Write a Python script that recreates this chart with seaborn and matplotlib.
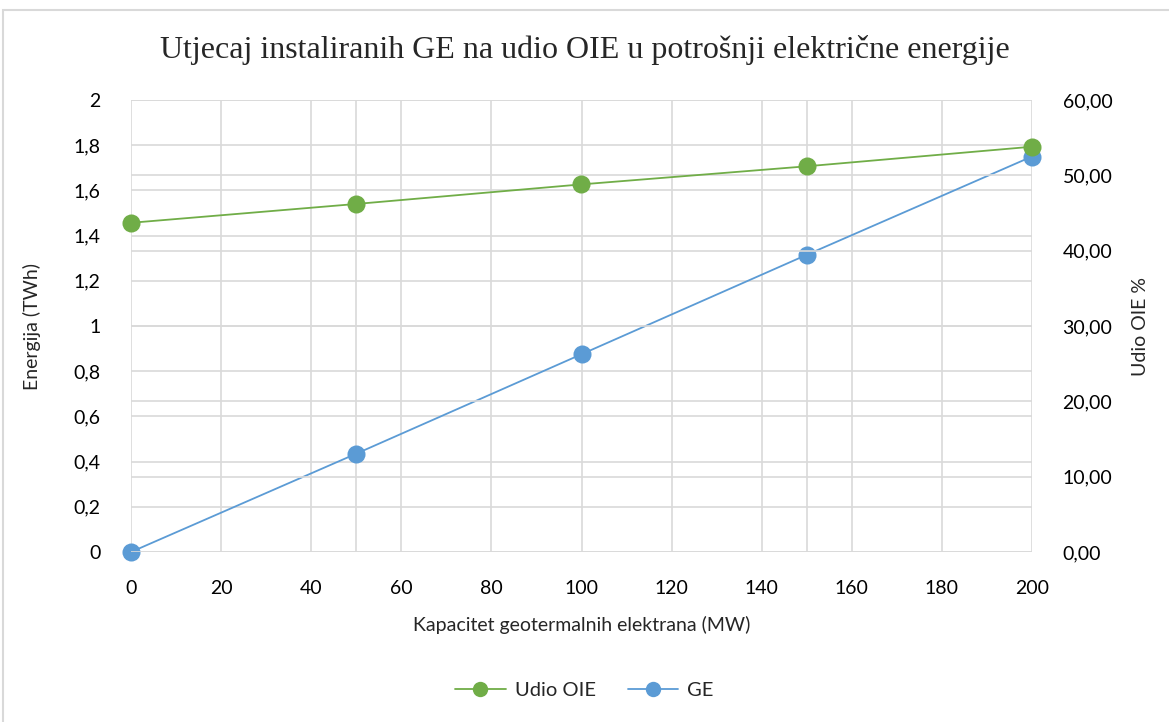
import numpy as np
import pandas as pd
import seaborn as sns
import matplotlib.pyplot as plt
from matplotlib.ticker import FuncFormatter, MultipleLocator, FixedLocator
from matplotlib.patches import Rectangle

# data
kapacitet = [0, 50, 100, 150, 200]
ge_twh = [0, 0.435, 0.875, 1.315, 1.75]
udio_oie = [43.7, 46.2, 48.8, 51.2, 53.8]

GREEN = "#70AD47"
BLUE = "#5B9BD5"
GRID = "#D9D9D9"

sns.set_theme(style="white")
plt.rcParams['font.family'] = ['Lato', 'DejaVu Sans']

df = pd.DataFrame({"kap": kapacitet, "ge": ge_twh, "oie": udio_oie})

fig = plt.figure(figsize=(11.69, 7.22), dpi=100)
ax = fig.add_axes([131 / 1169, 1 - 552 / 722, (1032 - 131) / 1169, (552 - 100) / 722])
ax2 = ax.twinx()

sns.lineplot(data=df, x="kap", y="ge", ax=ax, color=BLUE, marker="o", markersize=13,
             linewidth=1.3, markeredgewidth=0, label="GE", legend=False, zorder=3)
sns.lineplot(data=df, x="kap", y="oie", ax=ax2, color=GREEN, marker="o", markersize=13,
             linewidth=1.3, markeredgewidth=0, label="Udio OIE", legend=False, zorder=3)
for a in (ax, ax2):
    for ln in a.get_lines():
        ln.set_clip_on(False)

ax.set_xlim(0, 200)
ax.set_ylim(0, 2)
ax2.set_ylim(0, 60)
ax.xaxis.set_major_locator(MultipleLocator(20))
ax.xaxis.set_minor_locator(FixedLocator([50, 150]))
ax.yaxis.set_major_locator(MultipleLocator(0.2))
ax2.yaxis.set_major_locator(MultipleLocator(10))

ax.yaxis.set_major_formatter(FuncFormatter(lambda v, p: f"{v:g}".replace(".", ",")))
ax2.yaxis.set_major_formatter(FuncFormatter(lambda v, p: f"{v:.2f}".replace(".", ",")))

ax.grid(True, which="both", axis="x", color=GRID, linewidth=1.2)
ax.grid(True, which="major", axis="y", color=GRID, linewidth=1.2)
ax2.grid(True, which="major", axis="y", color=GRID, linewidth=1.2)
ax.set_axisbelow(True)
ax2.set_axisbelow(True)

for a in (ax, ax2):
    for s in a.spines.values():
        s.set_visible(False)
    a.tick_params(which="both", length=0, labelsize=14, colors="#000000")
ax.tick_params(axis="y", pad=22)
ax2.tick_params(axis="y", pad=22)
ax.tick_params(axis="x", pad=20)

ax.set_xlabel("Kapacitet geotermalnih elektrana (MW)", fontsize=14, labelpad=14)
ax.set_ylabel("Energija (TWh)", fontsize=14, labelpad=23)
ax2.set_ylabel("Udio OIE %", fontsize=14, labelpad=14)

fig.suptitle("Utjecaj instaliranih GE na udio OIE u potrošnji električne energije",
             fontsize=23, family=['Liberation Serif', 'DejaVu Serif'], y=1 - 50 / 722, va="center")

h2, l2 = ax2.get_legend_handles_labels()
h1, l1 = ax.get_legend_handles_labels()
leg = fig.legend(h2 + h1, l2 + l1, loc="center", bbox_to_anchor=(0.5, 1 - 690 / 722), ncol=2,
                 frameon=False, fontsize=14.5, handlelength=2.5, handletextpad=0.45,
                 columnspacing=1.6, markerscale=0.85)

fig.add_artist(Rectangle((3 / 1169, -0.05), 1.1, 1 - 10 / 722 + 0.05, transform=fig.transFigure,
                         fill=False, edgecolor=GRID, linewidth=1.5, clip_on=False))

fig.savefig("out.png", dpi=100, facecolor="white")
